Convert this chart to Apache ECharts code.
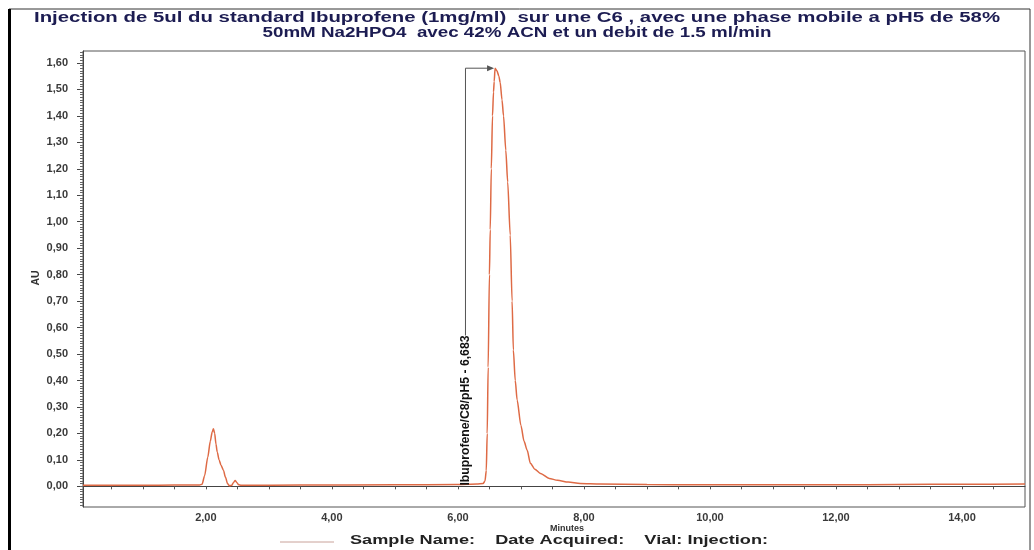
<!DOCTYPE html>
<html><head><meta charset="utf-8">
<script src="https://cdn.jsdelivr.net/npm/echarts@6/dist/echarts.min.js"></script>
<style>html,body{margin:0;padding:0;background:#fff}#c{width:1034px;height:550px}</style>
</head><body><div id="c"></div>
<script>
// ---- data ----
const times = [0.05, 1.0, 1.5, 1.9, 1.94, 1.98, 2.03, 2.07, 2.10, 2.12, 2.14, 2.16, 2.18, 2.21, 2.24, 2.28, 2.31, 2.345, 2.375, 2.41, 2.44, 2.465, 2.49, 2.52, 2.56, 3.5, 5.0, 6.0, 6.30, 6.40, 6.43, 6.45, 6.465, 6.48, 6.50, 6.513, 6.53, 6.549, 6.565, 6.576, 6.59, 6.62, 6.65, 6.671, 6.70, 6.724, 6.76, 6.79, 6.83, 6.86, 6.88, 6.91, 6.94, 7.00, 7.05, 7.10, 7.15, 7.22, 7.31, 7.45, 7.58, 7.75, 7.94, 8.26, 9.0, 9.85, 11.0, 12.0, 13.0, 14.0, 15.0];
const absorbance = [0.004, 0.004, 0.005, 0.005, 0.008, 0.04, 0.11, 0.17, 0.205, 0.218, 0.20, 0.16, 0.13, 0.10, 0.08, 0.06, 0.035, 0.01, 0.002, 0.004, 0.015, 0.022, 0.015, 0.006, 0.004, 0.005, 0.006, 0.007, 0.009, 0.011, 0.02, 0.06, 0.20, 0.45, 0.80, 0.97, 1.20, 1.40, 1.49, 1.53, 1.58, 1.57, 1.55, 1.526, 1.46, 1.40, 1.27, 1.15, 0.95, 0.70, 0.515, 0.40, 0.326, 0.23, 0.17, 0.136, 0.087, 0.065, 0.049, 0.03, 0.023, 0.016, 0.011, 0.009, 0.007, 0.006, 0.006, 0.006, 0.007, 0.008, 0.009];
const xTickValues = [0.5, 1, 1.5, 2, 2.5, 3, 3.5, 4, 4.5, 5, 5.5, 6, 6.5, 7, 7.5, 8, 8.5, 9, 9.5, 10, 10.5, 11, 11.5, 12, 12.5, 13, 13.5, 14, 14.5];
const xLabelValues = [2, 4, 6, 8, 10, 12, 14];
const yLabelValues = [0, 0.1, 0.2, 0.3, 0.4, 0.5, 0.6, 0.7, 0.8, 0.9, 1.0, 1.1, 1.2, 1.3, 1.4, 1.5, 1.6];
const titleLines = ['Injection de 5ul du standard Ibuprofene (1mg/ml)  sur une C6 , avec une phase mobile a pH5 de 58%', '50mM Na2HPO4  avec 42% ACN et un debit de 1.5 ml/min'];
const xName = 'Minutes';
const yName = 'AU';
const legendText = 'Sample Name:    Date Acquired:    Vial: Injection:';
const peakLabel = 'Ibuprofene/C8/pH5 - 6,683';
const peakApex = [6.59, 1.58];
const peakLabelLineTime = 6.12;
const peakLabelBottom = 0.003;
const peakLabelTop = 0.57;

// ---- helpers ----
const minorYTicks = [];
for (let i = -7; i <= 164; i++) minorYTicks.push(+(i / 100).toFixed(2));
const fmt = v => (+v).toFixed(2).replace('.', ',');
const mctx = document.createElement('canvas').getContext('2d');
function textW(str, font) { mctx.font = font; return mctx.measureText(str).width; }
const FF = '"Liberation Sans", Arial, sans-serif';

const chart = echarts.init(document.getElementById('c'));
const XMIN = 0.05, XMAX = 15, YMIN = -0.078, YMAX = 1.645;
chart.setOption({
  animation: false,
  backgroundColor: '#fff',
  grid: { left: 83, right: 9, top: 51, bottom: 43, show: true, borderColor: '#555', borderWidth: 1 },
  xAxis: {
    type: 'value', min: XMIN, max: XMAX,
    axisLine: { lineStyle: { color: '#444' } },
    axisTick: { customValues: xTickValues, length: 3, lineStyle: { color: '#555' } },
    axisLabel: { customValues: xLabelValues, formatter: fmt, color: '#3a3a3a', fontWeight: 'bold', fontSize: 11, fontFamily: FF, margin: 5 },
    splitLine: { show: false }
  },
  yAxis: [{
    type: 'value', min: YMIN, max: YMAX,
    axisLine: { show: true, lineStyle: { color: '#444' } },
    axisTick: { customValues: yLabelValues, length: 6, lineStyle: { color: '#444' } },
    axisLabel: { customValues: yLabelValues, formatter: fmt, color: '#3a3a3a', fontWeight: 'bold', fontSize: 11, fontFamily: FF, margin: 15 },
    splitLine: { show: false }
  }, {
    type: 'value', min: YMIN, max: YMAX, position: 'left',
    axisLine: { show: false },
    axisTick: { show: true, customValues: minorYTicks, length: 3, lineStyle: { color: '#666' } },
    axisLabel: { show: false },
    splitLine: { show: false }
  }],
  series: [{
    type: 'line', xAxisIndex: 0, yAxisIndex: 0,
    data: times.map((t, i) => [t, absorbance[i]]),
    showSymbol: false, smooth: 0.25, smoothMonotone: 'x',
    lineStyle: { color: '#de6a45', width: 1.5 },
    silent: true
  }]
});

function px(t, v) { return chart.convertToPixel({ xAxisIndex: 0, yAxisIndex: 0 }, [t, v]); }
const apex = px(peakApex[0], peakApex[1]);
const lineTop = px(peakLabelLineTime, peakApex[1]);
const lineBot = px(peakLabelLineTime, peakLabelTop);
const labBot = px(peakLabelLineTime, peakLabelBottom);

function txt(str, x, y, size, targetW, color, rot) {
  const font = 'bold ' + size + 'px ' + FF;
  const w = textW(str, font);
  return {
    type: 'text', x: x, y: y, rotation: rot || 0, scaleX: targetW ? targetW / w : 1,
    style: { text: str, font: font, fill: color, align: 'center', verticalAlign: 'middle', textAlign: 'center', textVerticalAlign: 'middle' },
    z: 100
  };
}
const labLen = labBot[1] - lineBot[1];
chart.setOption({
  graphic: [
    { type: 'rect', shape: { x: 9, y: 9, width: 1021, height: 560 }, style: { fill: 'none', stroke: '#333', lineWidth: 1 }, z: 90 },
    { type: 'line', shape: { x1: 9.5, y1: 9, x2: 9.5, y2: 550 }, style: { stroke: '#000', lineWidth: 3 }, z: 90 },
    txt(titleLines[0], 517, 18, 14.5, 966, '#1c1c52'),
    txt(titleLines[1], 517, 33, 14.5, 509, '#1c1c52'),
    txt(yName, 36, 278, 10.5, 0, '#333', Math.PI / 2),
    txt(xName, 567, 529, 9, 0, '#333'),
    { type: 'line', shape: { x1: 280, y1: 542, x2: 334, y2: 542 }, style: { stroke: '#c9a29a', lineWidth: 1 }, z: 90 },
    txt(legendText, 559, 541, 12.5, 418, '#222'),
    // peak annotation
    { type: 'polyline', shape: { points: [[lineBot[0], lineBot[1]], [lineTop[0], lineTop[1]], [apex[0] - 3, apex[1]]] }, style: { stroke: '#555', lineWidth: 1, fill: 'none' }, z: 95 },
    { type: 'polygon', shape: { points: [[apex[0] - 1, apex[1]], [apex[0] - 8, apex[1] - 3], [apex[0] - 8, apex[1] + 3]] }, style: { fill: '#555' }, z: 95 },
    txt(peakLabel, lineBot[0], (lineBot[1] + labBot[1]) / 2, 12, labLen, '#111', Math.PI / 2)
  ]
});
</script>
</body></html>
